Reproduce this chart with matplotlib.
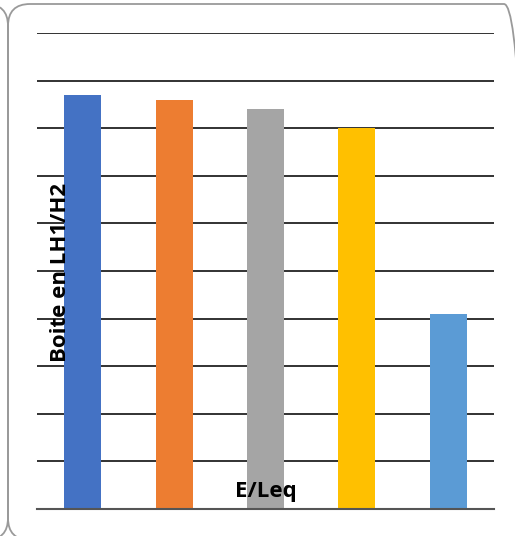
import matplotlib.pyplot as plt
from matplotlib.patches import FancyBboxPatch

categories = ["A", "B", "C", "D", "E"]
values = [8.70, 8.59, 8.40, 8.00, 4.10]
colors = ["#4472C4", "#ED7D31", "#A5A5A5", "#FFC000", "#5B9BD5"]
y_ticks = list(range(0, 11))

W, H = 515, 536
fig = plt.figure(figsize=(W / 100, H / 100), dpi=100)

# background frame (rounded boxes), pixel coords with origin bottom-left
bg = fig.add_axes([0, 0, 1, 1], zorder=0)
bg.set_xlim(0, W)
bg.set_ylim(0, H)
bg.axis("off")
for x0, x1 in [(8, 526), (-600, 8)]:
    bg.add_patch(FancyBboxPatch((x0, -4), x1 - x0, H,
                                boxstyle="round,pad=0,rounding_size=22",
                                fill=False, edgecolor="#9a9a9a", lw=1.3,
                                clip_on=False))

ax = fig.add_axes([37 / W, (H - 509) / H, (494 - 37) / W, (509 - 33) / H], zorder=1)
ax.patch.set_alpha(0)
x = range(len(categories))
ax.bar(x, values, width=0.405, color=colors, zorder=2)
ax.set_xlim(-0.5, len(categories) - 0.5)
ax.set_ylim(0, 10)
ax.set_yticks(y_ticks)
ax.yaxis.grid(True, color="#222222", lw=1.3, zorder=1)
ax.set_axisbelow(True)
ax.tick_params(left=False, bottom=False, labelleft=False, labelbottom=False)
for s in ["top", "right", "left"]:
    ax.spines[s].set_visible(False)
ax.spines["bottom"].set_color("#555555")
ax.spines["bottom"].set_linewidth(1.5)
ax.spines["bottom"].set_zorder(3)

fig.text(60 / W, 1 - 272 / H, "Boite en LH1/H2", rotation=90, fontsize=16,
         fontweight="bold", family="Open Sans", ha="center", va="center", zorder=5)
fig.text(266 / W, 1 - 492 / H, "E/Leq", fontsize=16, fontweight="bold",
         family="Open Sans", ha="center", va="center", zorder=5)

fig.savefig("out.png", dpi=100)
